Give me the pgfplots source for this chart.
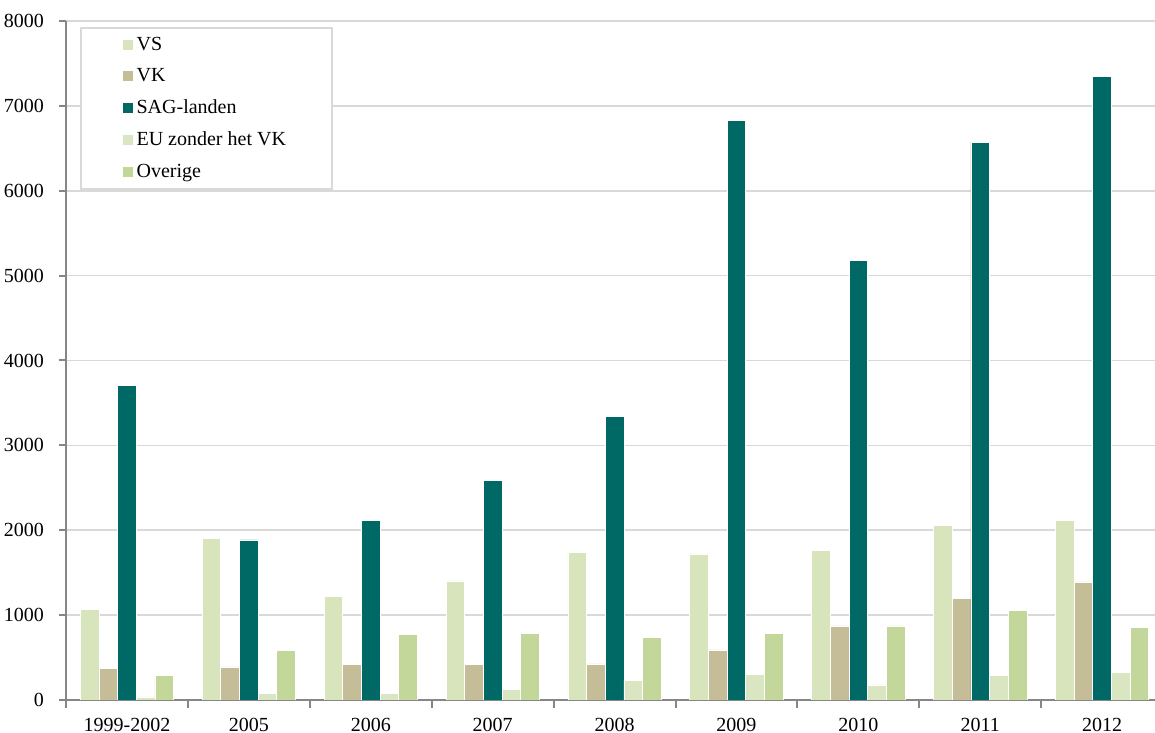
\documentclass[border=0pt]{standalone}
\usepackage{pgfplots}
\pgfplotsset{compat=1.18}
\usepackage{fontspec}
\setmainfont{Liberation Serif}
\definecolor{cVS}{RGB}{216,228,188}
\definecolor{cVK}{RGB}{196,189,151}
\definecolor{cSAG}{RGB}{0,104,101}
\definecolor{cEU}{RGB}{218,230,194}
\definecolor{cOV}{RGB}{196,215,155}
\definecolor{axgray}{RGB}{134,134,134}
\definecolor{grgray}{RGB}{217,217,217}
\begin{document}
\fontsize{10}{12}\selectfont
\begin{tikzpicture}
\begin{axis}[name=ax,
  scale only axis, width=544.5pt, height=339.5pt,
  ybar=0pt, bar width=0.153,
  xmin=-0.5, xmax=8.433, ymin=0, ymax=8000,
  axis x line*=bottom, axis y line*=left,
  axis line style={axgray, line width=1pt},
  xtick={0,...,8},
  xticklabels={1999-2002,2005,2006,2007,2008,2009,2010,2011,2012},
  major x tick style={draw=none},
  minor xtick={-0.5,0.5,...,8.5},
  minor tick length=4pt,
  minor x tick style={axgray, line width=1pt},
  ytick={0,1000,...,8000},
  major tick length=3.5pt,
  tick align=outside,
  y tick style={axgray, line width=1pt},
  ymajorgrids, grid style={grgray, line width=0.8pt},
  /pgf/number format/1000 sep={},
  /pgf/number format/assume math mode=true,
  ticklabel style={font=\fontsize{10}{12}\selectfont},
  xticklabel style={yshift=-2pt},
  yticklabel style={xshift=-4pt},
  every axis plot/.append style={draw=white, line width=0.4pt},
  legend style={at={(0,1)}, anchor=north west, xshift=7pt, yshift=-3pt,
    draw=grgray, line width=1pt, inner xsep=20.8pt, inner ysep=2.5pt,
    font=\fontsize{10}{12}\selectfont, cells={anchor=west},
    row sep=3.6pt},
  legend image code/.code={\fill[#1, draw=none] (0pt,-2.5pt) rectangle (5pt,2.5pt);},
  legend cell align=left,
]
\addplot[fill=cVS] coordinates {(0,1068) (1,1908) (2,1221) (3,1402) (4,1743) (5,1720) (6,1767) (7,2061) (8,2120)};
\addplot[fill=cVK] coordinates {(0,373) (1,389) (2,420) (3,416) (4,424) (5,589) (6,872) (7,1193) (8,1390)};
\addplot[fill=cSAG] coordinates {(0,3710) (1,1885) (2,2120) (3,2591) (4,3345) (5,6832) (6,5183) (7,6572) (8,7350)};
\addplot[fill=cEU] coordinates {(0,35) (1,82) (2,82) (3,126) (4,227) (5,303) (6,177) (7,286) (8,326)};
\addplot[fill=cOV] coordinates {(0,286) (1,581) (2,777) (3,789) (4,734) (5,781) (6,872) (7,1060) (8,856)};
\legend{VS,VK,SAG-landen,EU zonder het VK,Overige}
\end{axis}
\pgfresetboundingbox
\path ([xshift=-33pt,yshift=-16.5pt]ax.south west) rectangle ([yshift=10.5pt]ax.north east);
\end{tikzpicture}
\end{document}
